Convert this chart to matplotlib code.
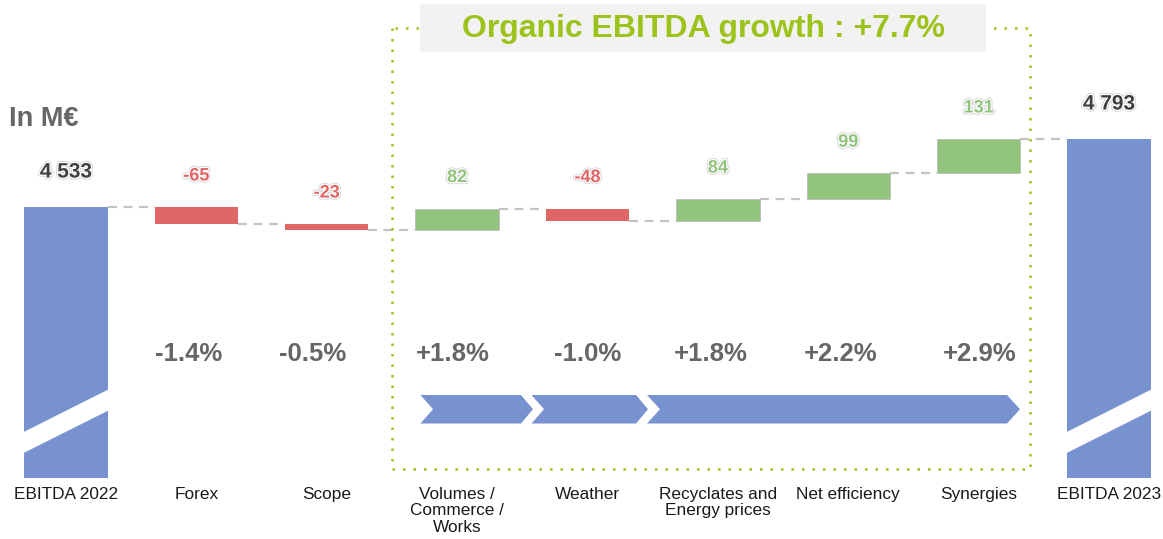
import matplotlib.pyplot as plt
import matplotlib.patheffects as pe
from matplotlib.patches import Polygon, Rectangle

# Data
categories = ['EBITDA 2022', 'Forex', 'Scope', 'Volumes /\nCommerce /\nWorks', 'Weather',
              'Recyclates and\nEnergy prices', 'Net efficiency', 'Synergies', 'EBITDA 2023']
start_value = 4533
deltas = [-65, -23, 82, -48, 84, 99, 131]
end_value = 4793
pct_labels = ['-1.4%', '-0.5%', '+1.8%', '-1.0%', '+1.8%', '+2.2%', '+2.9%']
title = 'Organic EBITDA growth : +7.7%'
unit_label = 'In M€'

# Style
blue = '#7892D0'
red = '#E06666'
green = '#93C47D'
lime = '#9CC31B'
dash_grey = '#C3C3C3'
text_grey = '#666666'
bar_width = 0.64
base = 3497  # broken axis base
pct_x_px = [189, 313, 453, 588, 711, 841, 980]  # percent label centres (pixels)

plt.rcParams['font.family'] = ['Liberation Sans', 'DejaVu Sans']

W, H = 1163, 539
fig = plt.figure(figsize=(W / 100, H / 100), dpi=100)
ax = fig.add_axes([0, 0, 1, 1])
ax.axis('off')

# pixel mapping (for decorations only)
x_px0, x_step = 66, 130.375
y_px_ref, y_ref, y_scale = 207, 4533, 0.26154
ax.set_xlim(-x_px0 / x_step, (W - x_px0) / x_step)
ax.set_ylim(y_ref - (H - y_px_ref) / y_scale, y_ref + y_px_ref / y_scale)


def px(xp):
    return (xp - x_px0) / x_step


def py(yp):
    return y_ref - (yp - y_px_ref) / y_scale


halo = [pe.Stroke(linewidth=3, foreground='#D4D4D4'),
        pe.Stroke(linewidth=1.8, foreground='white'), pe.Normal()]

# cumulative levels
levels = [start_value]
for d in deltas:
    levels.append(levels[-1] + d)

n = len(categories)

# total bars
for i, v in [(0, start_value), (n - 1, end_value)]:
    ax.bar(i, v - base, bottom=base, width=bar_width, color=blue, zorder=2)
    ax.text(i, v + 35 / y_scale, f'{v:,}'.replace(',', ' '), ha='center', va='center',
            fontsize=15, fontweight='bold', color='#404040', path_effects=halo, zorder=5)
    # axis break slash
    x0, x1 = i - bar_width / 2 - 0.02, i + bar_width / 2 + 0.02
    top_l, top_r = (433, 388.5)
    band = Polygon([(x0, py(top_l)), (x1, py(top_r)), (x1, py(top_r + 21)), (x0, py(top_l + 21))],
                   closed=True, facecolor='white', edgecolor='none', zorder=3)
    ax.add_patch(band)

# delta bars
for k, d in enumerate(deltas):
    i = k + 1
    lo, hi = sorted([levels[k], levels[k + 1]])
    col = green if d > 0 else red
    ax.bar(i, hi - lo, bottom=lo, width=bar_width, color=col, edgecolor='#B8B8B8',
           linewidth=0.5 if d > 0 else 0, zorder=2)
    ax.text(i, hi + 31 / y_scale, str(d), ha='center', va='center', fontsize=13,
            fontweight='bold', color=col, path_effects=halo, zorder=5)
    ax.text(px(pct_x_px[k]), py(354), pct_labels[k], ha='center', va='center', fontsize=18.5,
            fontweight='bold', color=text_grey, zorder=5)

# dashed connectors
for i in range(n - 1):
    ax.plot([i + bar_width / 2, i + 1 - bar_width / 2], [levels[i], levels[i]],
            color=dash_grey, linewidth=1.6, linestyle=(0, (4, 3)), zorder=1)

# category labels
for i, c in enumerate(categories):
    ax.text(i, py(487), c, ha='center', va='top', fontsize=12.4, color='#1A1A1A',
            linespacing=1.12, zorder=5)

# unit label
ax.text(px(9), py(119), unit_label, ha='left', va='center', fontsize=19.5,
        fontweight='bold', color=text_grey)

# dotted organic frame
fx0, fx1, fy0, fy1 = px(392), px(1030), py(28), py(469)
ax.plot([fx0, fx0, fx1, fx1, fx0], [fy0, fy1, fy1, fy0, fy0], color=lime,
        linewidth=1.8, linestyle=(0, (1, 3.2)), zorder=1)
ax.add_patch(Rectangle((px(420), py(52)), px(986) - px(420), py(4) - py(52),
                       facecolor='#F2F2F2', edgecolor='none', zorder=4))
ax.text(px(703), py(29), title, ha='center', va='center', fontsize=23, fontweight='bold',
        color=lime, zorder=5)

# chevrons
ct, cb = 395, 423.5
cm = (ct + cb) / 2
for left, notch, shoulder, tip in [(420.5, 433, 521, 533), (531.5, 544, 636, 648), (647, 660, 1007, 1020)]:
    pts = [(px(left), py(ct)), (px(shoulder), py(ct)), (px(tip), py(cm)),
           (px(shoulder), py(cb)), (px(left), py(cb)), (px(notch), py(cm))]
    ax.add_patch(Polygon(pts, closed=True, facecolor=blue, edgecolor='none', zorder=2))

plt.savefig('out.png', dpi=100)
